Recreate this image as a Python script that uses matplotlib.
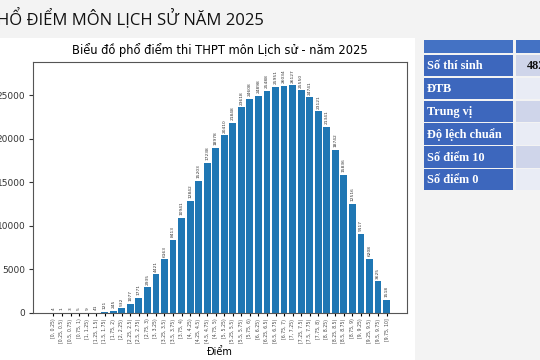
import matplotlib.pyplot as plt
from matplotlib.patches import Rectangle

# score bins [0, 0.25) ... [9.75, 10]
edges = [i * 0.25 for i in range(41)]


def fmt(v):
    return ('%g' % v)


bins = [f'[{fmt(edges[i])}, {fmt(edges[i + 1])})' for i in range(39)] + ['[9.75, 10]']
counts = [4, 1, 3, 5, 9, 41, 121, 245, 532, 1077,
          1771, 2935, 4421, 6163, 8413, 10941, 12842, 15203, 17238, 18978,
          20410, 21848, 23618, 24608, 24898, 25488, 25951, 26034, 26127, 25550,
          24741, 23121, 21341, 18742, 15836, 12516, 9117, 6208, 3625, 1518]

table_rows = ['Số thí sinh', 'ĐTB', 'Trung vị', 'Độ lệch chuẩn', 'Số điểm 10', 'Số điểm 0']
table_vals = ['482.240', '', '', '', '', '']

W, H = 540, 360
fig = plt.figure(figsize=(W / 100, H / 100), dpi=100, facecolor='#f3f3f3')

# white chart area
fig.patches.append(Rectangle((0, 0), 415 / W, 322 / H, transform=fig.transFigure,
                             facecolor='white', edgecolor='none', zorder=-1))

# slide title (cut at left edge)
fig.text(-13 / W, 1 - 19 / H, 'PHỔ ĐIỂM MÔN LỊCH SỬ NĂM 2025', fontsize=12,
         family='Open Sans', va='center', ha='left', color='#111111')

ax = fig.add_axes([33 / W, 47 / H, 374 / W, 251 / H])
ax.set_zorder(2)
x = list(range(len(counts)))
bars = ax.bar(x, counts, color='#1f77b4', width=0.8)
for xi, c in zip(x, counts):
    ax.text(xi, c + 300, str(c), rotation=90, ha='center', va='bottom',
            fontsize=3.2, color='#333333')
ax.set_xticks(x)
ax.set_xticklabels(bins, rotation=90, fontsize=3.3, color='#444444')
ax.set_ylim(0, 28800)
ax.set_yticks([0, 5000, 10000, 15000, 20000, 25000])
ax.tick_params(axis='y', labelsize=6.5, colors='#333333', length=3, pad=2.5)
ax.tick_params(axis='x', length=2.5, pad=1.5)
for s in ax.spines.values():
    s.set_color('#555555')
ax.set_title('Biểu đồ phổ điểm thi THPT môn Lịch sử - năm 2025', fontsize=8.3, pad=6)
ax.set_xlabel('Điểm', fontsize=7, labelpad=3)

# stats table on the right (cut at right edge)
x0, x1, x2 = 424, 513, 516
row_h = 22.8
top = 40


def rect(px, py, pw, ph, color):
    fig.patches.append(Rectangle((px / W, 1 - (py + ph) / H), pw / W, ph / H,
                                 transform=fig.transFigure, facecolor=color,
                                 edgecolor='none', zorder=1))


rect(x0, top, x1 - x0, 13, '#4472c4')
rect(x2, top, W - x2, 13, '#4472c4')
y = top + 15
for i, (name, val) in enumerate(zip(table_rows, table_vals)):
    rect(x0, y, x1 - x0, row_h - 1.5, '#3d67bd')
    rect(x2, y, W - x2, row_h - 1.5, '#cfd5ea' if i % 2 == 0 else '#e9ecf5')
    fig.text((x0 + 3) / W, 1 - (y + row_h / 2) / H, name, fontsize=8.8,
             family='Liberation Serif', weight='bold', color='white', va='center')
    if val:
        fig.text((x2 + 11) / W, 1 - (y + row_h / 2) / H, val, fontsize=8.8,
                 family='Liberation Serif', weight='bold', color='#111111', va='center')
    y += row_h

fig.savefig('out.png', dpi=100, facecolor=fig.get_facecolor())
